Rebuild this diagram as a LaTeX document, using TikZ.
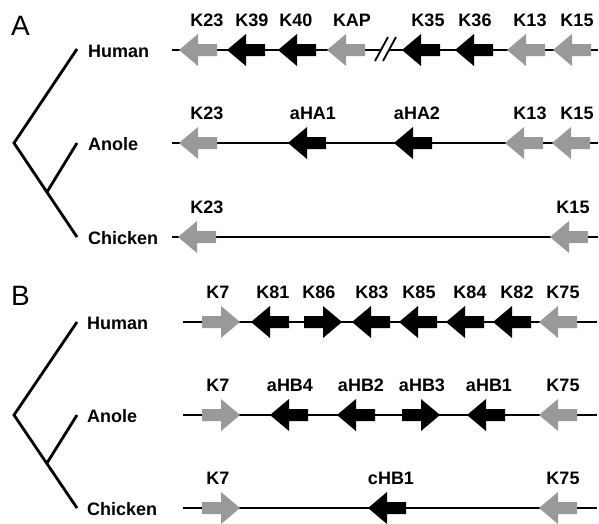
\documentclass[tikz,border=0pt]{standalone}
\usepackage{fontspec}
\setmainfont{Liberation Sans}
\usepackage{xcolor}
\usepackage{tikz}

\definecolor{genegray}{RGB}{153,153,153}

\tikzset{
  backbone/.style={line width=2.2pt},
  branch/.style={line width=2.8pt},
  genelabel/.style={font=\fontsize{18}{20}\selectfont\bfseries, anchor=base, inner sep=0pt},
  species/.style={font=\fontsize{18}{20}\selectfont\bfseries, anchor=base west, inner sep=0pt},
  panel/.style={font=\fontsize{28}{30}\selectfont, anchor=base west, inner sep=0pt}
}

% gene pointing left: name, left x, row y, colour, label, label x
\newcommand{\geneL}[6]{%
  \fill[#4] (#2,#3) -- ++(19,-16) -- ++(0,10) -- ++(19,0) -- ++(0,12) -- ++(-19,0) -- ++(0,10) -- cycle;
  \node[genelabel] (#1) at (#6,#3-24) {#5};}
% gene pointing right: name, left x, row y, colour, label, label x
\newcommand{\geneR}[6]{%
  \fill[#4] (#2+38,#3) -- ++(-19,-16) -- ++(0,10) -- ++(-19,0) -- ++(0,12) -- ++(19,0) -- ++(0,10) -- cycle;
  \node[genelabel] (#1) at (#6,#3-24) {#5};}

\begin{document}
\begin{tikzpicture}[x=1pt, y=-1pt]
        \useasboundingbox (0,0) rectangle (599,523);

        % panel A
        \node[panel] (panelA) at (11,35) {A};
        \coordinate (rootA) at (14,143);
        \coordinate (innerA) at (47,192);
        \coordinate (leafHA) at (77,49);
        \coordinate (leafAA) at (77,143);
        \coordinate (leafCA) at (77,237);
        \draw[branch] (leafHA) -- (rootA) -- (leafCA);
        \draw[branch] (innerA) -- (leafAA);
        \node[species] (humanA) at (88,57) {Human};
        \node[species] (anoleA) at (88,150) {Anole};
        \node[species] (chickenA) at (88,244) {Chicken};

        \coordinate (hA-start) at (172,50);
        \coordinate (hA-end) at (598,50);
        \coordinate (cut1) at (381,50);
        \coordinate (cut2) at (389,50);
        \draw[backbone] (hA-start) -- (cut1);
        \draw[backbone] (cut2) -- (hA-end);
        \draw[line width=1.8pt] (375,61) -- (388,37);
        \draw[line width=1.8pt] (383,61) -- (396,37);
        \geneL{hA-K23}{179}{50}{genegray}{K23}{207}
        \geneL{hA-K39}{227}{50}{black}{K39}{252}
        \geneL{hA-K40}{278}{50}{black}{K40}{296}
        \geneL{hA-KAP}{327}{50}{genegray}{KAP}{352}
        \geneL{hA-K35}{402}{50}{black}{K35}{428}
        \geneL{hA-K36}{455}{50}{black}{K36}{475}
        \geneL{hA-K13}{507}{50}{genegray}{K13}{530}
        \geneL{hA-K15}{553}{50}{genegray}{K15}{577}

        \coordinate (aA-start) at (172,143);
        \coordinate (aA-end) at (598,143);
        \draw[backbone] (aA-start) -- (aA-end);
        \geneL{aA-K23}{179}{143}{genegray}{K23}{207}
        \geneL{aA-aHA1}{288}{143}{black}{aHA1}{313}
        \geneL{aA-aHA2}{394}{143}{black}{aHA2}{417}
        \geneL{aA-K13}{505}{143}{genegray}{K13}{530}
        \geneL{aA-K15}{552}{143}{genegray}{K15}{577}

        \coordinate (cA-start) at (172,237);
        \coordinate (cA-end) at (598,237);
        \draw[backbone] (cA-start) -- (cA-end);
        \geneL{cA-K23}{178}{237}{genegray}{K23}{207}
        \geneL{cA-K15}{550}{237}{genegray}{K15}{573}

        % panel B
        \node[panel] (panelB) at (11,305) {B};
        \coordinate (rootB) at (14,415);
        \coordinate (innerB) at (47,463);
        \coordinate (leafHB) at (77,322);
        \coordinate (leafAB) at (77,415);
        \coordinate (leafCB) at (77,508);
        \draw[branch] (leafHB) -- (rootB) -- (leafCB);
        \draw[branch] (innerB) -- (leafAB);
        \node[species] (humanB) at (87,329) {Human};
        \node[species] (anoleB) at (87,422) {Anole};
        \node[species] (chickenB) at (87,515) {Chicken};

        \coordinate (hB-start) at (183,322);
        \coordinate (hB-end) at (597,322);
        \draw[backbone] (hB-start) -- (hB-end);
        \geneR{hB-K7}{202}{322}{genegray}{K7}{218}
        \geneL{hB-K81}{251}{322}{black}{K81}{273}
        \geneR{hB-K86}{304}{322}{black}{K86}{319}
        \geneL{hB-K83}{352}{322}{black}{K83}{372}
        \geneL{hB-K85}{399}{322}{black}{K85}{419}
        \geneL{hB-K84}{446}{322}{black}{K84}{470}
        \geneL{hB-K82}{493}{322}{black}{K82}{517}
        \geneL{hB-K75}{539}{322}{genegray}{K75}{563}

        \coordinate (aB-start) at (183,415);
        \coordinate (aB-end) at (597,415);
        \draw[backbone] (aB-start) -- (aB-end);
        \geneR{aB-K7}{202}{415}{genegray}{K7}{218}
        \geneL{aB-aHB4}{270}{415}{black}{aHB4}{290}
        \geneL{aB-aHB2}{337}{415}{black}{aHB2}{361}
        \geneR{aB-aHB3}{402}{415}{black}{aHB3}{422}
        \geneL{aB-aHB1}{467}{415}{black}{aHB1}{489}
        \geneL{aB-K75}{539}{415}{genegray}{K75}{563}

        \coordinate (cB-start) at (183,508);
        \coordinate (cB-end) at (597,508);
        \draw[backbone] (cB-start) -- (cB-end);
        \geneR{cB-K7}{202}{508}{genegray}{K7}{218}
        \geneL{cB-cHB1}{368}{508}{black}{cHB1}{391}
        \geneL{cB-K75}{539}{508}{genegray}{K75}{563}
    \end{tikzpicture}
\end{document}
